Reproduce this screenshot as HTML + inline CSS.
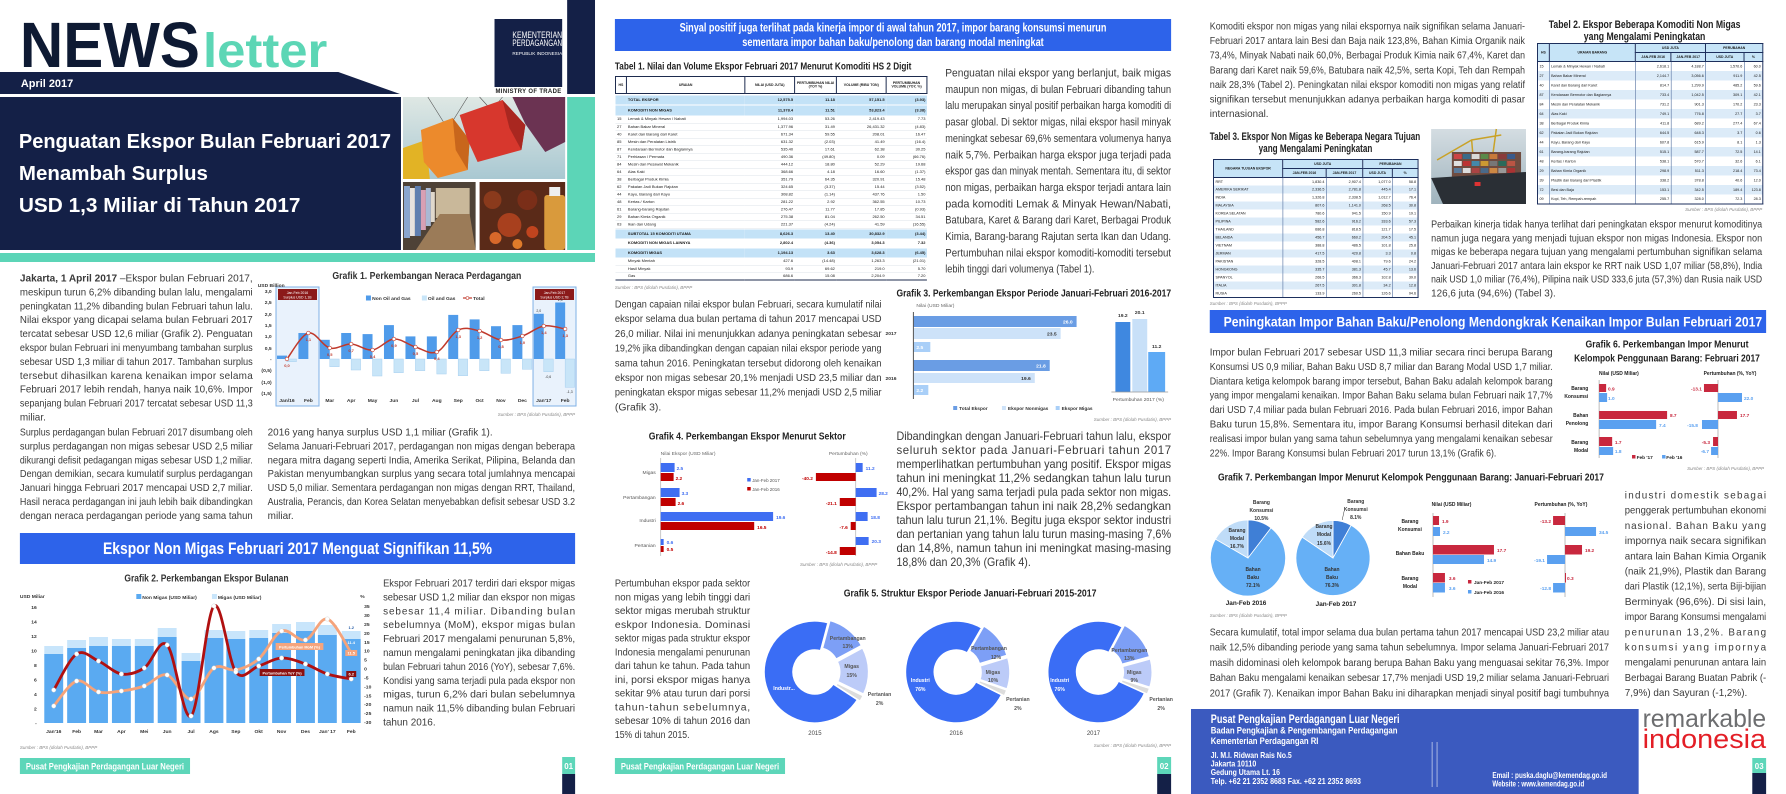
<!DOCTYPE html>
<html><head><meta charset="utf-8">
<style>
html,body{margin:0;padding:0;background:#fff;}
#wrap{position:relative;width:1786px;height:794px;overflow:hidden;background:#fff;font-family:"Liberation Sans",sans-serif;}
#main{position:absolute;left:0;top:0;}
svg text{font-family:"Liberation Sans",sans-serif;}
.src{font-size:4.5px;font-style:italic;fill:#8a8a8a;}
.tb{position:absolute;transform-origin:0 0;}
.tb table{border-collapse:collapse;table-layout:fixed;width:100%;font-family:"Liberation Sans",sans-serif;color:#1a1a1a;}
.tb td{padding:0 3px;white-space:nowrap;overflow:hidden;line-height:1;font-size:8px;}
.r{text-align:right;} .c{text-align:center;}
.t1 .th td{border:2px solid #1d2b4e;font-weight:bold;text-align:center;font-size:7px;white-space:normal;background:#fff;}
.t1 .hb td{background:#c3e2f7;font-weight:bold;}
.t1 .dr td{border-bottom:1px solid #dde3ea;}
.t1 .last td{border-bottom:2px solid #1d2b4e;}
.tx{border:2px solid #1d2f5c;}
.tx .th td{background:#c6e4f7;border:2px solid #1d2f5c;font-weight:bold;text-align:center;font-size:7px;}
.tx td{border-left:1.5px solid #2b4f8a;border-right:1.5px solid #2b4f8a;font-size:7.5px;}
.tx tr.s td{background:#dcebf8;}
</style></head>
<body><div id="wrap">
<svg id="main" width="1786" height="794" viewBox="0 0 1786 794" xmlns="http://www.w3.org/2000/svg">
<defs>
<linearGradient id="sky" x1="0" y1="0" x2="0" y2="1"><stop offset="0" stop-color="#dfe8e4"/><stop offset="1" stop-color="#a9c8d2"/></linearGradient>
<linearGradient id="sky2" x1="0" y1="0" x2="0" y2="1"><stop offset="0" stop-color="#d4dde2"/><stop offset="1" stop-color="#9fb3bd"/></linearGradient>
</defs>

<!-- ================= PAGE 1 ================= -->
<g transform="matrix(0.995,0,0,1,0,0)">
<text x="20" y="67" font-size="64" font-weight="bold" fill="#0e1a33" textLength="181" lengthAdjust="spacingAndGlyphs">NEWS</text>
<text x="204" y="67" font-size="48" font-weight="bold" fill="#5cd6b5" textLength="125" lengthAdjust="spacingAndGlyphs">letter</text>
<polygon points="0,72 340,72 402,94 0,94" fill="#142047"/>
<text x="21" y="87" font-size="11" font-weight="bold" fill="#fff">April 2017</text>
<rect x="497" y="19" width="68" height="68" fill="#142047"/>
<text x="515" y="38" font-size="9" fill="#fff" textLength="50" lengthAdjust="spacingAndGlyphs">KEMENTERIAN</text>
<text x="515" y="46" font-size="9" fill="#fff" textLength="50" lengthAdjust="spacingAndGlyphs">PERDAGANGAN</text>
<text x="515" y="55" font-size="5" fill="#fff" textLength="50" lengthAdjust="spacingAndGlyphs">REPUBLIK INDONESIA</text>
<text x="498" y="93" font-size="6" font-weight="bold" fill="#222" textLength="66" lengthAdjust="spacing">MINISTRY OF TRADE</text>
<rect x="570" y="0" width="28" height="94" fill="#142047"/>
<rect x="570" y="97" width="28" height="153" fill="#5cd5b7"/>
<rect x="0" y="97" width="403" height="153" fill="#142047"/>
<g font-size="20" font-weight="bold" fill="#fff">
<text x="19" y="148" textLength="374" lengthAdjust="spacingAndGlyphs">Penguatan Ekspor Bulan Februari 2017</text>
<text x="19" y="180" textLength="190" lengthAdjust="spacingAndGlyphs">Menambah Surplus</text>
<text x="19" y="212" textLength="283" lengthAdjust="spacingAndGlyphs">USD 1,3 Miliar di Tahun 2017</text>
</g>
<rect x="405" y="97" width="163" height="82" fill="url(#sky)"/>
<path d="M430,97 L447,124 M470,97 L455,121 M482,97 L492,108 M505,97 L497,107 M540,97 L545,100" stroke="#555" stroke-width=".6"/>
<polygon points="405,148 428,140 432,179 405,179" fill="#e2b325"/>
<polygon points="423,130 455,118 472,140 470,170 440,178 426,162" fill="#ec8a2c"/>
<polygon points="455,118 472,140 470,170 458,150" fill="#c8661c"/>
<polygon points="462,115 505,100 528,125 524,150 480,162 470,140" fill="#d7372d"/>
<polygon points="505,100 528,125 524,150 512,128" fill="#a92720"/>
<polygon points="515,97 568,97 568,142 548,152 528,124" fill="#6b3352"/>
<rect x="405" y="182" width="73" height="68" fill="#4e4237"/>
<rect x="438" y="188" width="34" height="30" fill="#c9b89a"/>
<polygon points="418,250 478,250 472,214 442,214" fill="#9b7b58"/>
<rect x="406" y="186" width="6" height="52" fill="#8aa6cf"/><rect x="412" y="188" width="5" height="48" fill="#e6e2de"/>
<rect x="417" y="186" width="6" height="50" fill="#5f7fb0"/><rect x="423" y="190" width="5" height="40" fill="#d8a0b4"/>
<rect x="428" y="188" width="5" height="38" fill="#a9b9d4"/><rect x="433" y="192" width="4" height="30" fill="#e0d8cc"/>
<rect x="482" y="182" width="86" height="68" fill="#5a2a18"/>
<circle cx="495" cy="200" r="9" fill="#8a3a1c"/><circle cx="512" cy="225" r="12" fill="#a8401e"/><circle cx="530" cy="200" r="10" fill="#7a2e18"/>
<circle cx="498" cy="238" r="6" fill="#d8682a"/><circle cx="520" cy="244" r="5" fill="#e07b2a"/><circle cx="535" cy="232" r="6" fill="#c0441e"/>
<rect x="547" y="195" width="21" height="55" rx="3" fill="#d99a3c"/><rect x="552" y="187" width="11" height="9" fill="#eeeeee"/>
<rect x="0" y="253" width="598" height="9" fill="#5cd5b7"/>

<g font-size="10" fill="#3a3a3a">
<text x="20" y="281.5" textLength="234" lengthAdjust="spacingAndGlyphs"><tspan font-weight="bold">Jakarta, 1 April 2017</tspan> –Ekspor bulan Februari 2017,</text>
<text x="20" y="295.4" textLength="234" lengthAdjust="spacingAndGlyphs">meskipun turun 6,2% dibanding bulan lalu, mengalami</text>
<text x="20" y="309.3" textLength="234" lengthAdjust="spacingAndGlyphs">peningkatan 11,2% dibanding bulan Februari tahun lalu.</text>
<text x="20" y="323.2" textLength="234" lengthAdjust="spacingAndGlyphs">Nilai ekspor yang dicapai selama bulan Februari 2017</text>
<text x="20" y="337.1" textLength="234" lengthAdjust="spacingAndGlyphs">tercatat sebesar USD 12,6 miliar (Grafik 2). Penguatan</text>
<text x="20" y="351" textLength="234" lengthAdjust="spacingAndGlyphs">ekspor bulan Februari ini menyumbang tambahan surplus</text>
<text x="20" y="364.9" textLength="234" lengthAdjust="spacingAndGlyphs">sebesar USD 1,3 miliar di tahun 2017. Tambahan surplus</text>
<text x="20" y="378.8" textLength="234" lengthAdjust="spacing">tersebut dihasilkan karena kenaikan impor selama</text>
<text x="20" y="392.7" textLength="234" lengthAdjust="spacingAndGlyphs">Februari 2017 lebih rendah, hanya naik 10,6%. Impor</text>
<text x="20" y="406.6" textLength="234" lengthAdjust="spacingAndGlyphs">sepanjang bulan Februari 2017 tercatat sebesar USD 11,3</text>
<text x="20" y="420.5">miliar.</text>
<text x="20" y="435.5" textLength="234" lengthAdjust="spacingAndGlyphs">Surplus perdagangan bulan Februari 2017 disumbang oleh</text>
<text x="20" y="449.4" textLength="234" lengthAdjust="spacingAndGlyphs">surplus perdagangan non migas sebesar USD 2,5 miliar</text>
<text x="20" y="463.3" textLength="234" lengthAdjust="spacingAndGlyphs">dikurangi defisit pedagangan migas sebesar USD 1,2 miliar.</text>
<text x="20" y="477.2" textLength="234" lengthAdjust="spacingAndGlyphs">Dengan demikian, secara kumulatif surplus perdagangan</text>
<text x="20" y="491.1" textLength="234" lengthAdjust="spacingAndGlyphs">Januari hingga Februari 2017 mencapai USD 2,7 miliar.</text>
<text x="20" y="505" textLength="234" lengthAdjust="spacingAndGlyphs">Hasil neraca perdagangan ini jauh lebih baik dibandingkan</text>
<text x="20" y="518.9" textLength="234" lengthAdjust="spacingAndGlyphs">dengan neraca perdagangan periode yang sama tahun</text>
<text x="269" y="435.5">2016 yang hanya surplus USD 1,1 miliar (Grafik 1).</text>
<text x="269" y="449.4" textLength="309" lengthAdjust="spacingAndGlyphs">Selama Januari-Februari 2017, perdagangan non migas dengan beberapa</text>
<text x="269" y="463.3" textLength="309" lengthAdjust="spacingAndGlyphs">negara mitra dagang seperti India, Amerika Serikat, Pilipina, Belanda dan</text>
<text x="269" y="477.2" textLength="309" lengthAdjust="spacingAndGlyphs">Pakistan menyumbangkan surplus yang secara total jumlahnya mencapai</text>
<text x="269" y="491.1" textLength="309" lengthAdjust="spacingAndGlyphs">USD 5,0 miliar. Sementara perdagangan non migas dengan RRT, Thailand,</text>
<text x="269" y="505" textLength="309" lengthAdjust="spacingAndGlyphs">Australia, Perancis, dan Korea Selatan menyebabkan defisit sebesar USD 3.2</text>
<text x="269" y="518.9">miliar.</text>
<text x="385" y="586.5" textLength="193" lengthAdjust="spacingAndGlyphs">Ekspor Februari 2017 terdiri dari ekspor migas</text>
<text x="385" y="600.4" textLength="193" lengthAdjust="spacingAndGlyphs">sebesar USD 1,2 miliar dan ekspor non migas</text>
<text x="385" y="614.3" textLength="193" lengthAdjust="spacing">sebesar 11,4 miliar. Dibanding bulan</text>
<text x="385" y="628.2" textLength="193" lengthAdjust="spacing">sebelumnya (MoM), ekspor migas bulan</text>
<text x="385" y="642.1" textLength="193" lengthAdjust="spacingAndGlyphs">Februari 2017 mengalami penurunan 5,8%,</text>
<text x="385" y="656" textLength="193" lengthAdjust="spacingAndGlyphs">namun mengalami peningkatan jika dibanding</text>
<text x="385" y="669.9" textLength="193" lengthAdjust="spacingAndGlyphs">bulan Februari tahun 2016 (YoY), sebesar 7,6%.</text>
<text x="385" y="683.8" textLength="193" lengthAdjust="spacingAndGlyphs">Kondisi yang sama terjadi pula pada ekspor non</text>
<text x="385" y="697.7" textLength="193" lengthAdjust="spacingAndGlyphs">migas, turun 6,2% dari bulan sebelumnya</text>
<text x="385" y="711.6" textLength="193" lengthAdjust="spacingAndGlyphs">namun naik 11,5% dibanding bulan Februari</text>
<text x="385" y="725.5">tahun 2016.</text>
</g>

<!-- Grafik 1 -->
<text x="334" y="279" font-size="10" font-weight="bold" fill="#333" textLength="190" lengthAdjust="spacingAndGlyphs">Grafik 1. Perkembangan Neraca Perdagangan</text>
<rect x="277.4" y="287" width="43.2" height="119" fill="#e9f2fc" stroke="#7fb0e6" stroke-width="1"/>
<rect x="535.7" y="287" width="43.2" height="119" fill="#e9f2fc" stroke="#7fb0e6" stroke-width="1"/>
<rect x="279.4" y="289" width="39.2" height="11" fill="#8b1a1a"/>
<rect x="537.7" y="289" width="39.2" height="11" fill="#8b1a1a"/>
<g font-size="3.5" fill="#fff" text-anchor="middle"><text x="299" y="294">Jan-Feb 2016</text><text x="299" y="298.5">Surplus USD 1,1B</text><text x="557.3" y="294">Jan-Feb 2017</text><text x="557.3" y="298.5">Surplus USD 2,7B</text></g>
<g font-size="5" font-weight="bold" fill="#333">
<text x="259" y="287">USD Billion</text>
<g text-anchor="end"><text x="273" y="293">3,0</text><text x="273" y="304">2,5</text><text x="273" y="316">2,0</text><text x="273" y="327">1,5</text><text x="273" y="338">1,0</text><text x="273" y="350">0,5</text><text x="273" y="361">-</text><text x="273" y="372">(0,5)</text><text x="273" y="384">(1,0)</text><text x="273" y="395">(1,5)</text></g>
<g text-anchor="middle"><text x="288.4" y="402">Jan/16</text><text x="309.9" y="402">Feb</text><text x="331.4" y="402">Mar</text><text x="352.9" y="402">Apr</text><text x="374.4" y="402">May</text><text x="395.9" y="402">Jun</text><text x="417.5" y="402">Jul</text><text x="439" y="402">Aug</text><text x="460.5" y="402">Sep</text><text x="482" y="402">Oct</text><text x="503.5" y="402">Nov</text><text x="525" y="402">Dec</text><text x="546.5" y="402">Jan'17</text><text x="568" y="402">Feb</text></g>
<rect x="367.8" y="295.5" width="5" height="5" fill="#4f9bea"/><text x="374" y="300">Non Oil and Gas</text>
<rect x="424" y="295.5" width="5" height="5" fill="#c8e5f8"/><text x="430" y="300">Oil and Gas</text>
<line x1="465.3" y1="298" x2="474.4" y2="298" stroke="#c0392b" stroke-width="1.2"/><circle cx="469.8" cy="298" r="1.5" fill="#fff" stroke="#c0392b" stroke-width=".6"/><text x="475.5" y="300">Total</text>
</g>
<g fill="#4f9bea">
<rect x="278.4" y="355.6" width="10" height="3.4"/><rect x="299.9" y="333" width="10" height="26"/><rect x="321.4" y="339.8" width="10" height="19.2"/><rect x="342.9" y="333" width="10" height="26"/><rect x="364.4" y="334.1" width="10" height="24.9"/><rect x="385.9" y="325.1" width="10" height="33.9"/><rect x="407.5" y="336.4" width="10" height="22.6"/><rect x="429" y="336.4" width="10" height="22.6"/><rect x="450.5" y="314.9" width="10" height="44.1"/><rect x="472" y="319.4" width="10" height="39.6"/><rect x="493.5" y="326.2" width="10" height="32.8"/><rect x="515" y="325.1" width="10" height="33.9"/><rect x="536.5" y="313.8" width="10" height="45.2"/><rect x="558" y="302.5" width="10" height="56.5"/>
</g>
<g fill="#c8e5f8" stroke="#a8d0f0" stroke-width=".5">
<rect x="288.4" y="359" width="9.5" height="2.7"/><rect x="331.4" y="359" width="9.5" height="7.7"/><rect x="352.9" y="359" width="9.5" height="11"/><rect x="374.4" y="359" width="9.5" height="17"/><rect x="395.9" y="359" width="9.5" height="13.7"/><rect x="417.5" y="359" width="9.5" height="11.7"/><rect x="439" y="359" width="9.5" height="15"/><rect x="460.5" y="359" width="9.5" height="16.7"/><rect x="482" y="359" width="9.5" height="11.7"/><rect x="503.5" y="359" width="9.5" height="14.3"/><rect x="525" y="359" width="9.5" height="10.3"/><rect x="546.5" y="359" width="9.5" height="12.7"/><rect x="568" y="359" width="9.5" height="28.3"/>
</g>
<g font-size="3.5" fill="#333" text-anchor="middle"><text x="541.5" y="312">2,0</text><text x="563" y="301">2,5</text><text x="551" y="378">-0,6</text><text x="572.5" y="393">-1,3</text></g>
<path id="g1line" d="M288.4,359 L309.9,333 L331.4,348 L352.9,344 L374.4,350 L395.9,339 L417.5,347 L439,352 L460.5,330 L482,331 L503.5,340 L525,336 L546.5,326 L568,329" fill="none" stroke="#c0392b" stroke-width="1.5"/>
<g fill="#fff" stroke="#c0392b" stroke-width=".6">
<circle cx="288.4" cy="359" r="1.8"/><circle cx="309.9" cy="333" r="1.8"/><circle cx="331.4" cy="348" r="1.8"/><circle cx="352.9" cy="344" r="1.8"/><circle cx="374.4" cy="350" r="1.8"/><circle cx="395.9" cy="339" r="1.8"/><circle cx="417.5" cy="347" r="1.8"/><circle cx="439" cy="352" r="1.8"/><circle cx="460.5" cy="330" r="1.8"/><circle cx="482" cy="331" r="1.8"/><circle cx="503.5" cy="340" r="1.8"/><circle cx="525" cy="336" r="1.8"/><circle cx="546.5" cy="326" r="1.8"/><circle cx="568" cy="329" r="1.8"/>
</g>
<g font-size="4" fill="#c0392b" font-weight="bold" text-anchor="middle">
<text x="288.4" y="367">0,0</text><text x="309.9" y="341">1,1</text><text x="331.4" y="356">0,5</text><text x="352.9" y="352">0,7</text><text x="374.4" y="358">0,4</text><text x="395.9" y="347">0,9</text><text x="417.5" y="355">0,5</text><text x="439" y="360">0,4</text><text x="460.5" y="338">1,3</text><text x="482" y="339">1,2</text><text x="503.5" y="348">0,8</text><text x="525" y="344">1,0</text><text x="546.5" y="334">1,4</text><text x="568" y="337">1,3</text>
</g>
<text x="578" y="416" class="src" text-anchor="end">Sumber : BPS (diolah Pusdatin), BPPP</text>

<rect x="20" y="533" width="558" height="31" fill="#2d63ea"/>
<text x="299" y="554" font-size="17" font-weight="bold" fill="#fff" text-anchor="middle" textLength="391" lengthAdjust="spacingAndGlyphs">Ekspor Non Migas Februari 2017 Menguat Signifikan 11,5%</text>

<!-- Grafik 2 -->
<text x="125" y="581.5" font-size="10.5" font-weight="bold" fill="#333" textLength="165" lengthAdjust="spacingAndGlyphs">Grafik 2. Perkembangan Ekspor Bulanan</text>
<g font-size="5" font-weight="bold" fill="#333">
<text x="20" y="598">USD Miliar</text><text x="362" y="598">%</text>
<rect x="137" y="594" width="5" height="5" fill="#5aaaf1"/><text x="143" y="599">Non Migas (USD Miliar)</text>
<rect x="213" y="594" width="5" height="5" fill="#c8e5fb"/><text x="219" y="599">Migas (USD Miliar)</text>
<g text-anchor="end"><text x="37" y="609">16</text><text x="37" y="623.5">14</text><text x="37" y="638">12</text><text x="37" y="652.5">10</text><text x="37" y="667">8</text><text x="37" y="681.5">6</text><text x="37" y="696">4</text><text x="37" y="710.5">2</text><text x="37" y="725">-</text></g>
<text x="366" y="608">35</text><text x="366" y="617">30</text><text x="366" y="626">25</text><text x="366" y="635">20</text><text x="366" y="644">15</text><text x="366" y="652.5">10</text><text x="366" y="661.5">5</text><text x="366" y="670.5">0</text><text x="366" y="679.5">-5</text><text x="366" y="688.5">-10</text><text x="366" y="697.5">-15</text><text x="366" y="706">-20</text><text x="366" y="715">-25</text><text x="366" y="724">-30</text>
<g text-anchor="middle"><text x="54" y="733">Jan'16</text><text x="77" y="733">Feb</text><text x="99" y="733">Mar</text><text x="122" y="733">Apr</text><text x="145" y="733">Mei</text><text x="168" y="733">Jun</text><text x="192" y="733">Jul</text><text x="215" y="733">Ags</text><text x="237" y="733">Sep</text><text x="260" y="733">Okt</text><text x="283" y="733">Nov</text><text x="307" y="733">Des</text><text x="329" y="733">Jan' 17</text><text x="353" y="733">Feb</text></g>
</g>
<g fill="#c8e5fb">
<rect x="44.5" y="646" width="19" height="8"/><rect x="67.5" y="640" width="19" height="8"/><rect x="89.5" y="637" width="19" height="9"/><rect x="112.5" y="639" width="19" height="7"/><rect x="135.5" y="639" width="19" height="7"/><rect x="158.5" y="628" width="19" height="9"/><rect x="182.5" y="653" width="19" height="8"/><rect x="205.5" y="630" width="19" height="8"/><rect x="227.5" y="631" width="19" height="8"/><rect x="250.5" y="630" width="19" height="8"/><rect x="273.5" y="624" width="19" height="9"/><rect x="297.5" y="622" width="19" height="9"/><rect x="319.5" y="625" width="19" height="10"/><rect x="343.5" y="631" width="19" height="8"/>
</g>
<g fill="#5aaaf1">
<rect x="44.5" y="654" width="19" height="69"/><rect x="67.5" y="648" width="19" height="75"/><rect x="89.5" y="646" width="19" height="77"/><rect x="112.5" y="646" width="19" height="77"/><rect x="135.5" y="646" width="19" height="77"/><rect x="158.5" y="637" width="19" height="86"/><rect x="182.5" y="661" width="19" height="62"/><rect x="205.5" y="638" width="19" height="85"/><rect x="227.5" y="639" width="19" height="84"/><rect x="250.5" y="638" width="19" height="85"/><rect x="273.5" y="633" width="19" height="90"/><rect x="297.5" y="631" width="19" height="92"/><rect x="319.5" y="635" width="19" height="88"/><rect x="343.5" y="639" width="19" height="84"/>
</g>
<path id="g2o" d="M54,706 L77,681 L99,692 L122,691 L145,686 L168,675 L192,699 L215,668 L237,670 L260,659 L283,631 L307,640 L329,619 L353,653" fill="none" stroke="#f5a37a" stroke-width="2.8"/>
<path id="g2r" d="M54,690 L77,654 L99,661 L122,674 L145,668 L168,645 L192,716 L215,606 L237,672 L260,666 L283,658 L307,664 L329,674 L353,679" fill="none" stroke="#b01010" stroke-width="2.8"/>
<g fill="#fff" stroke="#ccc" stroke-width=".4">
<circle cx="54" cy="706" r="2.2"/><circle cx="77" cy="681" r="2.2"/><circle cx="99" cy="692" r="2.2"/><circle cx="122" cy="691" r="2.2"/><circle cx="145" cy="686" r="2.2"/><circle cx="168" cy="675" r="2.2"/><circle cx="192" cy="699" r="2.2"/><circle cx="215" cy="668" r="2.2"/><circle cx="237" cy="670" r="2.2"/><circle cx="260" cy="659" r="2.2"/><circle cx="283" cy="631" r="2.2"/><circle cx="307" cy="640" r="2.2"/><circle cx="329" cy="619" r="2.2"/><circle cx="353" cy="653" r="2.2"/>
<circle cx="54" cy="690" r="2.2"/><circle cx="77" cy="654" r="2.2"/><circle cx="99" cy="661" r="2.2"/><circle cx="122" cy="674" r="2.2"/><circle cx="145" cy="668" r="2.2"/><circle cx="168" cy="645" r="2.2"/><circle cx="192" cy="716" r="2.2"/><circle cx="215" cy="606" r="2.2"/><circle cx="237" cy="672" r="2.2"/><circle cx="260" cy="666" r="2.2"/><circle cx="283" cy="658" r="2.2"/><circle cx="307" cy="664" r="2.2"/><circle cx="329" cy="674" r="2.2"/><circle cx="353" cy="679" r="2.2"/>
</g>
<rect x="277" y="643" width="48" height="7" fill="#f5a57e"/>
<text x="301" y="648.3" font-size="3.8" fill="#fff" text-anchor="middle" font-weight="bold">Pertumbuhan MoM (%)</text>
<rect x="261" y="669" width="45" height="7" fill="#8b1010"/>
<text x="283.5" y="674.3" font-size="3.8" fill="#fff" text-anchor="middle" font-weight="bold">Pertumbuhan YoY (%)</text>
<g font-size="4" font-weight="bold" text-anchor="middle">
<text x="353" y="629" fill="#2a5fa8">1.2</text><text x="353" y="644" fill="#fff">11.4</text>
<rect x="347" y="650" width="12" height="6" fill="#f5a57e"/><text x="353" y="654.5" fill="#fff">11.5</text>
<rect x="348" y="671" width="10" height="6" fill="#8b1010"/><text x="353" y="675.5" fill="#fff">6.2</text>
</g>
<text x="20" y="749" class="src">Sumber : BPS (diolah Pusdatin), BPPP</text>

<rect x="20" y="758" width="171" height="16" fill="#5dd6b9"/>
<text x="26" y="769.5" font-size="9.5" font-weight="bold" fill="#fff" textLength="159" lengthAdjust="spacingAndGlyphs">Pusat Pengkajian Perdagangan Luar Negeri</text>
<rect x="565" y="757" width="13" height="17" fill="#5dd6b9"/><text x="571.5" y="769" font-size="8" font-weight="bold" fill="#fff" text-anchor="middle">01</text>
<rect x="565" y="774" width="13" height="20" fill="#142047"/>
</g>

<!-- ================= PAGE 2 ================= -->
<g transform="matrix(0.995,0,0,1,2.975,0)">
<rect x="615" y="19" width="559" height="32" fill="#2d63ea"/>
<g font-size="11.5" font-weight="bold" fill="#fff" text-anchor="middle">
<text x="894.5" y="31.5" textLength="429" lengthAdjust="spacingAndGlyphs">Sinyal positif juga terlihat pada kinerja impor di awal tahun 2017, impor barang konsumsi menurun</text>
<text x="894.5" y="46" textLength="303" lengthAdjust="spacingAndGlyphs">sementara impor bahan baku/penolong dan barang modal meningkat</text>
</g>
<text x="615" y="69.5" font-size="10" font-weight="bold" fill="#222" textLength="298" lengthAdjust="spacingAndGlyphs">Tabel 1. Nilai dan Volume Ekspor Februari 2017 Menurut Komoditi HS 2 Digit</text>
<text x="615" y="289" class="src">Sumber : BPS (diolah Pusdatin), BPPP</text>

<g font-size="11" fill="#3a3a3a">
<text x="947" y="76.5" textLength="227" lengthAdjust="spacingAndGlyphs">Penguatan nilai ekspor yang berlanjut, baik migas</text>
<text x="947" y="92.9" textLength="227" lengthAdjust="spacingAndGlyphs">maupun non migas, di bulan Februari dibanding tahun</text>
<text x="947" y="109.2" textLength="227" lengthAdjust="spacingAndGlyphs">lalu merupakan sinyal positif perbaikan harga komoditi di</text>
<text x="947" y="125.6" textLength="227" lengthAdjust="spacingAndGlyphs">pasar global. Di sektor migas, nilai ekspor hasil minyak</text>
<text x="947" y="141.9" textLength="227" lengthAdjust="spacingAndGlyphs">meningkat sebesar 69,6% sementara volumenya hanya</text>
<text x="947" y="158.3" textLength="227" lengthAdjust="spacingAndGlyphs">naik 5,7%. Perbaikan harga ekspor juga terjadi pada</text>
<text x="947" y="174.6" textLength="227" lengthAdjust="spacingAndGlyphs">ekspor gas dan minyak mentah. Sementara itu, di sektor</text>
<text x="947" y="191" textLength="227" lengthAdjust="spacingAndGlyphs">non migas, perbaikan harga ekspor terjadi antara lain</text>
<text x="947" y="207.3" textLength="227" lengthAdjust="spacing">pada komoditi Lemak &amp; Minyak Hewan/Nabati,</text>
<text x="947" y="223.7" textLength="227" lengthAdjust="spacingAndGlyphs">Batubara, Karet &amp; Barang dari Karet, Berbagai Produk</text>
<text x="947" y="240" textLength="227" lengthAdjust="spacingAndGlyphs">Kimia, Barang-barang Rajutan serta Ikan dan Udang.</text>
<text x="947" y="256.4" textLength="227" lengthAdjust="spacingAndGlyphs">Pertumbuhan nilai ekspor komoditi-komoditi tersebut</text>
<text x="947" y="272.7" textLength="150" lengthAdjust="spacingAndGlyphs">lebih tinggi dari volumenya (Tabel 1).</text>
</g>
<g font-size="10.5" fill="#3a3a3a">
<text x="615" y="307.5" textLength="268" lengthAdjust="spacingAndGlyphs">Dengan capaian nilai ekspor bulan Februari, secara kumulatif nilai</text>
<text x="615" y="322.2" textLength="268" lengthAdjust="spacingAndGlyphs">ekspor selama dua bulan pertama di tahun 2017 mencapai USD</text>
<text x="615" y="336.9" textLength="268" lengthAdjust="spacingAndGlyphs">26,0 miliar. Nilai ini menunjukkan adanya peningkatan sebesar</text>
<text x="615" y="351.6" textLength="268" lengthAdjust="spacingAndGlyphs">19,2% jika dibandingkan dengan capaian nilai ekspor periode yang</text>
<text x="615" y="366.3" textLength="268" lengthAdjust="spacingAndGlyphs">sama tahun 2016. Peningkatan tersebut didorong oleh kenaikan</text>
<text x="615" y="381" textLength="268" lengthAdjust="spacingAndGlyphs">ekspor non migas sebesar 20,1% menjadi USD 23,5 miliar dan</text>
<text x="615" y="395.7" textLength="268" lengthAdjust="spacingAndGlyphs">peningkatan ekspor migas sebesar 11,2% menjadi USD 2,5 miliar</text>
<text x="615" y="410.4">(Grafik 3).</text>
</g>
<g font-size="11.5" fill="#3a3a3a">
<text x="898" y="440" textLength="276" lengthAdjust="spacingAndGlyphs">Dibandingkan dengan Januari-Februari tahun lalu, ekspor</text>
<text x="898" y="454" textLength="276" lengthAdjust="spacing">seluruh sektor pada Januari-Februari tahun 2017</text>
<text x="898" y="468" textLength="276" lengthAdjust="spacingAndGlyphs">memperlihatkan pertumbuhan yang positif. Ekspor migas</text>
<text x="898" y="482" textLength="276" lengthAdjust="spacingAndGlyphs">tahun ini meningkat 11,2% sedangkan tahun lalu turun</text>
<text x="898" y="496" textLength="276" lengthAdjust="spacingAndGlyphs">40,2%. Hal yang sama terjadi pula pada sektor non migas.</text>
<text x="898" y="510" textLength="276" lengthAdjust="spacingAndGlyphs">Ekspor pertambangan tahun ini naik 28,2% sedangkan</text>
<text x="898" y="524" textLength="276" lengthAdjust="spacingAndGlyphs">tahun lalu turun 21,1%. Begitu juga ekspor sektor industri</text>
<text x="898" y="538" textLength="276" lengthAdjust="spacingAndGlyphs">dan pertanian yang tahun lalu turun masing-masing 7,6%</text>
<text x="898" y="552" textLength="276" lengthAdjust="spacingAndGlyphs">dan 14,8%, namun tahun ini meningkat masing-masing</text>
<text x="898" y="566" textLength="135" lengthAdjust="spacingAndGlyphs">18,8% dan 20,3% (Grafik 4).</text>
</g>
<g font-size="10.5" fill="#3a3a3a">
<text x="615" y="586.5" textLength="136" lengthAdjust="spacingAndGlyphs">Pertumbuhan ekspor pada sektor</text>
<text x="615" y="600.3" textLength="136" lengthAdjust="spacingAndGlyphs">non migas yang lebih tinggi dari</text>
<text x="615" y="614" textLength="136" lengthAdjust="spacingAndGlyphs">sektor migas merubah struktur</text>
<text x="615" y="627.8" textLength="136" lengthAdjust="spacing">eskpor Indonesia. Dominasi</text>
<text x="615" y="641.5" textLength="136" lengthAdjust="spacingAndGlyphs">sektor migas pada struktur ekspor</text>
<text x="615" y="655.3" textLength="136" lengthAdjust="spacingAndGlyphs">Indonesia mengalami penurunan</text>
<text x="615" y="669" textLength="136" lengthAdjust="spacingAndGlyphs">dari tahun ke tahun. Pada tahun</text>
<text x="615" y="682.8" textLength="136" lengthAdjust="spacingAndGlyphs">ini, porsi ekspor migas hanya</text>
<text x="615" y="696.5" textLength="136" lengthAdjust="spacingAndGlyphs">sekitar 9% atau turun dari porsi</text>
<text x="615" y="710.3" textLength="136" lengthAdjust="spacing">tahun-tahun sebelumnya,</text>
<text x="615" y="724" textLength="136" lengthAdjust="spacingAndGlyphs">sebesar 10% di tahun 2016 dan</text>
<text x="615" y="737.8" textLength="75" lengthAdjust="spacingAndGlyphs">15% di tahun 2015.</text>
</g>

<!-- Grafik 3 -->
<text x="898" y="296.5" font-size="10" font-weight="bold" fill="#222" textLength="276" lengthAdjust="spacingAndGlyphs">Grafik 3. Perkembangan Ekspor Periode Januari-Februari 2016-2017</text>
<text x="918" y="307" font-size="5" fill="#666">Nilai (USD Miliar)</text>
<rect x="915" y="316" width="164" height="11" fill="#6a9de4"/>
<rect x="915" y="328" width="148" height="11" fill="#cde2f9"/>
<rect x="915" y="342" width="17" height="10" fill="#a9cff8"/>
<rect x="915" y="360" width="137" height="11" fill="#6a9de4"/>
<rect x="915" y="373" width="122" height="10" fill="#cde2f9"/>
<rect x="915" y="385" width="15" height="10" fill="#a9cff8"/>
<line x1="915" y1="312" x2="915" y2="399" stroke="#555" stroke-width="1"/>
<g font-size="5" font-weight="bold">
<text x="1075" y="323.5" fill="#fff" text-anchor="end">26.0</text>
<text x="1059" y="335.5" fill="#333" text-anchor="end">23.5</text>
<text x="918" y="349" fill="#fff">2.5</text>
<text x="1048" y="367.5" fill="#fff" text-anchor="end">21.8</text>
<text x="1033" y="380" fill="#333" text-anchor="end">19.6</text>
<text x="918" y="392" fill="#fff">2.2</text>
<text x="887" y="335" fill="#333">2017</text>
<text x="887" y="380" fill="#333">2016</text>
</g>
<rect x="1118" y="322" width="15" height="70" fill="#3f88e0"/>
<rect x="1135" y="319" width="15" height="73" fill="#c8e0f8"/>
<rect x="1151" y="352" width="17" height="40" fill="#5eaaf5"/>
<line x1="1114" y1="392" x2="1171" y2="392" stroke="#999" stroke-width=".8"/>
<g font-size="5" font-weight="bold" fill="#333" text-anchor="middle">
<text x="1125.5" y="317">19.2</text><text x="1142.5" y="314">20.1</text><text x="1159.5" y="348">11.2</text>
</g>
<text x="1141" y="401" font-size="5" fill="#555" text-anchor="middle">Pertumbuhan 2017 (%)</text>
<g font-size="4.8" font-weight="bold" fill="#333">
<rect x="955" y="406" width="4" height="4" fill="#6a9de4"/><text x="961" y="410">Total Ekspor</text>
<rect x="1004" y="406" width="4" height="4" fill="#cde2f9"/><text x="1010" y="410">Ekspor Nonmigas</text>
<rect x="1058" y="406" width="4" height="4" fill="#a9cff8"/><text x="1064" y="410">Ekspor Migas</text>
</g>
<text x="1174" y="421" class="src" text-anchor="end">Sumber : BPS (diolah Pusdatin), BPPP</text>

<!-- Grafik 4 -->
<text x="649" y="439.5" font-size="10" font-weight="bold" fill="#222" textLength="198" lengthAdjust="spacingAndGlyphs">Grafik 4. Perkembangan Ekspor Menurut Sektor</text>
<text x="661" y="455" font-size="5" fill="#666">Nilai Ekspor (USD Miliar)</text>
<text x="830" y="455" font-size="5" fill="#666">Pertumbuhan (%)</text>
<line x1="661" y1="458" x2="661" y2="556" stroke="#bbb" stroke-width=".8"/>
<line x1="857" y1="458" x2="857" y2="556" stroke="#bbb" stroke-width=".8"/>
<g fill="#3f6ef2"><rect x="661" y="463" width="14" height="9"/><rect x="661" y="488" width="19" height="9"/><rect x="661" y="512" width="113" height="9"/><rect x="661" y="539" width="3" height="6"/>
<rect x="857" y="463" width="7" height="9"/><rect x="857" y="488" width="21" height="9"/><rect x="857" y="512" width="12" height="9"/><rect x="857" y="537" width="13" height="8"/></g>
<g fill="#c00000"><rect x="661" y="473" width="13" height="8"/><rect x="661" y="498" width="15" height="8"/><rect x="661" y="522" width="94" height="8"/><rect x="661" y="546" width="3" height="6"/>
<rect x="817" y="473" width="40" height="8"/><rect x="841" y="498" width="16" height="8"/><rect x="852" y="522" width="5" height="8"/><rect x="841" y="547" width="16" height="8"/></g>
<g font-size="4.8" font-weight="bold">
<g fill="#3f6ef2"><text x="677" y="470">2.5</text><text x="682" y="495">3.3</text><text x="777" y="519">19.6</text><text x="667" y="544">0.6</text>
<text x="867" y="470">11.2</text><text x="880" y="495">28.2</text><text x="872" y="519">18.8</text><text x="873" y="543">20.3</text></g>
<g fill="#c00000"><text x="676" y="480">2.2</text><text x="678" y="505">2.6</text><text x="758" y="529">16.5</text><text x="667" y="551">0.5</text>
<g text-anchor="end"><text x="814" y="480">-40.2</text><text x="838" y="505">-21.1</text><text x="849" y="529">-7.6</text><text x="838" y="554">-14.8</text></g></g>
</g>
<g font-size="5" fill="#555" text-anchor="end"><text x="656" y="474">Migas</text><text x="656" y="499">Pertambangan</text><text x="656" y="522">Industri</text><text x="656" y="547">Pertanian</text></g>
<g font-size="4.5" fill="#555"><rect x="748" y="478" width="3.5" height="3.5" fill="#3f6ef2"/><text x="753" y="482">Jan-Feb 2017</text><rect x="748" y="487" width="3.5" height="3.5" fill="#c00000"/><text x="753" y="491">Jan-Feb 2016</text></g>
<text x="801" y="566" class="src">Sumber : BPS (diolah Pusdatin), BPPP</text>

<!-- Grafik 5 -->
<text x="845" y="596.5" font-size="10" font-weight="bold" fill="#222" textLength="254" lengthAdjust="spacingAndGlyphs">Grafik 5. Struktur Ekspor Periode Januari-Februari 2015-2017</text>
<g stroke="#fff" stroke-width="1.5">
<path d="M858.77,699.77 A51,51 0 1 1 829.2,622.74 L821.69,650.75 A22,22 0 1 0 834.45,683.98 Z" fill="#3a6df5"/>
<path transform="translate(1.9,-2.4)" d="M829.2,622.74 A51,51 0 0 1 860.95,647.9 L835.39,661.6 A22,22 0 0 0 821.69,650.75 Z" fill="#7d9ff6"/>
<path transform="translate(3,0)" d="M860.95,647.9 A51,51 0 0 1 861.92,694.2 L835.81,681.57 A22,22 0 0 0 835.39,661.6 Z" fill="#bccbf8"/>
<path transform="translate(2.6,1.5)" d="M861.92,694.2 A51,51 0 0 1 858.77,699.77 L834.45,683.98 A22,22 0 0 0 835.81,681.57 Z" fill="#dcdcdc"/>
<path d="M1003.68,694.67 A51,51 0 1 1 983.5,627.83 L969,652.95 A22,22 0 1 0 977.71,681.78 Z" fill="#3a6df5"/>
<path transform="translate(2.3,-1.9)" d="M983.5,627.83 A51,51 0 0 1 1006.82,657.26 L979.06,665.64 A22,22 0 0 0 969,652.95 Z" fill="#7d9ff6"/>
<path transform="translate(3,0.3)" d="M1006.82,657.26 A51,51 0 0 1 1006.16,688.77 L978.78,679.24 A22,22 0 0 0 979.06,665.64 Z" fill="#bccbf8"/>
<path transform="translate(2.7,1.3)" d="M1006.16,688.77 A51,51 0 0 1 1003.68,694.67 L977.71,681.78 A22,22 0 0 0 978.78,679.24 Z" fill="#dcdcdc"/>
<path d="M1147.45,693.07 A51,51 0 1 1 1124.94,626.97 L1111.33,652.58 A22,22 0 1 0 1121.04,681.09 Z" fill="#3a6df5"/>
<path transform="translate(2.2,-1.9)" d="M1124.94,626.97 A51,51 0 0 1 1150.22,658.63 L1122.23,666.23 A22,22 0 0 0 1111.33,652.58 Z" fill="#7d9ff6"/>
<path transform="translate(3,0.2)" d="M1150.22,658.63 A51,51 0 0 1 1149.72,687.08 L1122.02,678.51 A22,22 0 0 0 1122.23,666.23 Z" fill="#bccbf8"/>
<path transform="translate(2.7,1.2)" d="M1149.72,687.08 A51,51 0 0 1 1147.45,693.07 L1121.04,681.09 A22,22 0 0 0 1122.02,678.51 Z" fill="#dcdcdc"/>
</g>
<g font-size="5.2" font-weight="bold" text-anchor="middle">
<g fill="#555"><text x="849" y="640">Pertambangan</text><text x="849" y="648">13%</text><text x="853" y="668">Migas</text><text x="853" y="677">15%</text><text x="881" y="696">Pertanian</text><text x="881" y="705">2%</text>
<text x="991" y="650">Pertambangan</text><text x="998" y="659">12%</text><text x="995" y="674">Migas</text><text x="995" y="682">10%</text><text x="1020" y="701">Pertanian</text><text x="1020" y="710">2%</text>
<text x="1132" y="652">Pertambangan</text><text x="1132" y="660">13%</text><text x="1137" y="674">Migas</text><text x="1137" y="682">9%</text><text x="1164" y="701">Pertanian</text><text x="1164" y="710">2%</text></g>
<g fill="#fff"><text x="785" y="690">Industr...</text><text x="922" y="682">Industri</text><text x="922" y="691">76%</text><text x="1062" y="682">Industri</text><text x="1062" y="691">76%</text></g>
</g>
<g font-size="6" fill="#444" text-anchor="middle"><text x="816" y="735">2015</text><text x="958" y="735">2016</text><text x="1096" y="735">2017</text></g>
<text x="1174" y="747" class="src" text-anchor="end">Sumber : BPS (diolah Pusdatin), BPPP</text>

<rect x="615" y="758" width="171" height="16" fill="#5dd6b9"/>
<text x="621" y="769.5" font-size="9.5" font-weight="bold" fill="#fff" textLength="159" lengthAdjust="spacingAndGlyphs">Pusat Pengkajian Perdagangan Luar Negeri</text>
<rect x="1160" y="757" width="14" height="17" fill="#5dd6b9"/><text x="1167" y="769" font-size="8" font-weight="bold" fill="#fff" text-anchor="middle">02</text>
<rect x="1160" y="774" width="14" height="20" fill="#142047"/>
</g>

<!-- ================= PAGE 3 ================= -->
<g transform="matrix(0.9882,0,0,1,14.04,0)">
<g font-size="10" fill="#3a3a3a">
<text x="1210" y="29.5" textLength="319" lengthAdjust="spacingAndGlyphs">Komoditi ekspor non migas yang nilai ekspornya naik signifikan selama Januari-</text>
<text x="1210" y="44.1" textLength="319" lengthAdjust="spacingAndGlyphs">Februari 2017 antara lain Besi dan Baja naik 123,8%, Bahan Kimia Organik naik</text>
<text x="1210" y="58.7" textLength="319" lengthAdjust="spacingAndGlyphs">73,4%, Minyak Nabati naik 60,0%, Berbagai Produk Kimia naik 67,4%, Karet dan</text>
<text x="1210" y="73.3" textLength="319" lengthAdjust="spacingAndGlyphs">Barang dari Karet naik 59,6%, Batubara naik 42,5%, serta Kopi, Teh dan Rempah</text>
<text x="1210" y="87.9" textLength="319" lengthAdjust="spacingAndGlyphs">naik 28,3% (Tabel 2). Peningkatan nilai ekspor komoditi non migas yang relatif</text>
<text x="1210" y="102.5" textLength="319" lengthAdjust="spacingAndGlyphs">signifikan tersebut menunjukkan adanya perbaikan harga komoditi di pasar</text>
<text x="1210" y="117.1">internasional.</text>
<text x="1434" y="227.5" textLength="335" lengthAdjust="spacingAndGlyphs">Perbaikan kinerja tidak hanya terlihat dari peningkatan ekspor menurut komoditinya</text>
<text x="1434" y="241.3" textLength="335" lengthAdjust="spacingAndGlyphs">namun juga negara yang menjadi tujuan ekspor non migas Indonesia. Ekspor non</text>
<text x="1434" y="255.1" textLength="335" lengthAdjust="spacingAndGlyphs">migas ke beberapa negara tujuan yang mengalami pertumbuhan signifikan selama</text>
<text x="1434" y="268.9" textLength="335" lengthAdjust="spacingAndGlyphs">Januari-Februari 2017 antara lain ekspor ke RRT naik USD 1,07 miliar (58,8%), India</text>
<text x="1434" y="282.7" textLength="335" lengthAdjust="spacingAndGlyphs">naik USD 1,0 miliar (76,4%), Pilipina naik USD 333,6 juta (57,3%) dan Rusia naik USD</text>
<text x="1434" y="296.5">126,6 juta (94,6%) (Tabel 3).</text>
<text x="1210" y="355.5" textLength="347" lengthAdjust="spacingAndGlyphs">Impor bulan Februari 2017 sebesar USD 11,3 miliar secara rinci berupa Barang</text>
<text x="1210" y="369.9" textLength="347" lengthAdjust="spacingAndGlyphs">Konsumsi US 0,9 miliar, Bahan Baku USD 8,7 miliar dan Barang Modal USD 1,7 miliar.</text>
<text x="1210" y="384.3" textLength="347" lengthAdjust="spacingAndGlyphs">Diantara ketiga kelompok barang impor tersebut, Bahan Baku adalah kelompok barang</text>
<text x="1210" y="398.7" textLength="347" lengthAdjust="spacingAndGlyphs">yang impor mengalami kenaikan. Impor Bahan Baku selama bulan Februari naik 17,7%</text>
<text x="1210" y="413.1" textLength="347" lengthAdjust="spacingAndGlyphs">dari USD 7,4 miliar pada bulan Februari 2016. Pada bulan Februari 2016, impor Bahan</text>
<text x="1210" y="427.5" textLength="347" lengthAdjust="spacingAndGlyphs">Baku turun 15,8%. Sementara itu, impor Barang Konsumsi berhasil ditekan dari</text>
<text x="1210" y="441.9" textLength="347" lengthAdjust="spacingAndGlyphs">realisasi impor bulan yang sama tahun sebelumnya yang mengalami kenaikan sebesar</text>
<text x="1210" y="456.3" textLength="290" lengthAdjust="spacingAndGlyphs">22%. Impor Barang Konsumsi bulan Februari 2017 turun 13,1% (Grafik 6).</text>
<text x="1210" y="635.5" textLength="404" lengthAdjust="spacingAndGlyphs">Secara kumulatif, total impor selama dua bulan pertama tahun 2017 mencapai USD 23,2 miliar atau</text>
<text x="1210" y="650.75" textLength="404" lengthAdjust="spacingAndGlyphs">naik 12,5% dibanding periode yang sama tahun sebelumnya. Impor selama Januari-Februari 2017</text>
<text x="1210" y="666" textLength="404" lengthAdjust="spacingAndGlyphs">masih didominasi oleh kelompok barang berupa Bahan Baku yang menguasai sekitar 76,3%. Impor</text>
<text x="1210" y="681.25" textLength="404" lengthAdjust="spacingAndGlyphs">Bahan Baku mengalami kenaikan sebesar 17,7% menjadi USD 19,2 miliar selama Januari-Februari</text>
<text x="1210" y="696.5" textLength="404" lengthAdjust="spacingAndGlyphs">2017 (Grafik 7). Kenaikan impor Bahan Baku ini diharapkan menjadi sinyal positif bagi tumbuhnya</text>
<text x="1630" y="498.5" textLength="143" lengthAdjust="spacing">industri domestik sebagai</text>
<text x="1630" y="513.7" textLength="143" lengthAdjust="spacingAndGlyphs">penggerak pertumbuhan ekonomi</text>
<text x="1630" y="528.9" textLength="143" lengthAdjust="spacing">nasional. Bahan Baku yang</text>
<text x="1630" y="544.1" textLength="143" lengthAdjust="spacingAndGlyphs">impornya naik secara signifikan</text>
<text x="1630" y="559.3" textLength="143" lengthAdjust="spacingAndGlyphs">antara lain Bahan Kimia Organik</text>
<text x="1630" y="574.5" textLength="143" lengthAdjust="spacingAndGlyphs">(naik 21,9%), Plastik dan Barang</text>
<text x="1630" y="589.7" textLength="143" lengthAdjust="spacingAndGlyphs">dari Plastik (12,1%), serta Biji-bijian</text>
<text x="1630" y="604.9" textLength="143" lengthAdjust="spacingAndGlyphs">Berminyak (96,6%). Di sisi lain,</text>
<text x="1630" y="620.1" textLength="143" lengthAdjust="spacingAndGlyphs">impor Barang Konsumsi mengalami</text>
<text x="1630" y="635.3" textLength="143" lengthAdjust="spacing">penurunan 13,2%. Barang</text>
<text x="1630" y="650.5" textLength="143" lengthAdjust="spacing">konsumsi yang impornya</text>
<text x="1630" y="665.7" textLength="143" lengthAdjust="spacingAndGlyphs">mengalami penurunan antara lain</text>
<text x="1630" y="680.9" textLength="143" lengthAdjust="spacingAndGlyphs">Berbagai Barang Buatan Pabrik (-</text>
<text x="1630" y="696.1">7,9%) dan Sayuran (-1,2%).</text>
</g>
<g font-size="11" font-weight="bold" fill="#222">
<text x="1650" y="28" text-anchor="middle" textLength="194" lengthAdjust="spacingAndGlyphs">Tabel 2. Ekspor Beberapa Komoditi Non Migas</text>
<text x="1650" y="40" text-anchor="middle" textLength="123" lengthAdjust="spacingAndGlyphs">yang Mengalami Peningkatan</text>
<text x="1210" y="140" textLength="213" lengthAdjust="spacingAndGlyphs">Tabel 3. Ekspor Non Migas ke Beberapa Negara Tujuan</text>
<text x="1317" y="152" text-anchor="middle" textLength="115" lengthAdjust="spacingAndGlyphs">yang Mengalami Peningkatan</text>
</g>
<text x="1769" y="211" class="src" text-anchor="end">Sumber : BPS (diolah Pusdatin), BPPP</text>
<text x="1210" y="305" class="src">Sumber : BPS (diolah Pusdatin), BPPP</text>
<rect x="1434" y="129" width="96" height="75" fill="url(#sky2)"/>
<path d="M1440,160 L1475,140 L1505,135 M1475,140 L1478,175 M1500,129 L1495,165" stroke="#c9a227" stroke-width="1.5" fill="none"/>
<rect x="1455" y="152" width="70" height="28" fill="#6f4c40"/>
<g><rect x="1457" y="154" width="8" height="5" fill="#c44"/><rect x="1466" y="154" width="8" height="5" fill="#3a6b8a"/><rect x="1475" y="154" width="8" height="5" fill="#d9d9d9"/><rect x="1484" y="154" width="8" height="5" fill="#5a8a4a"/><rect x="1493" y="154" width="8" height="5" fill="#c87a3a"/><rect x="1502" y="154" width="8" height="5" fill="#8a3a3a"/><rect x="1511" y="154" width="8" height="5" fill="#3a5a8a"/>
<rect x="1457" y="161" width="8" height="5" fill="#e0e0e0"/><rect x="1466" y="161" width="8" height="5" fill="#b33"/><rect x="1475" y="161" width="8" height="5" fill="#48a"/><rect x="1484" y="161" width="8" height="5" fill="#c93"/><rect x="1493" y="161" width="8" height="5" fill="#777"/><rect x="1502" y="161" width="8" height="5" fill="#2a6a5a"/><rect x="1511" y="161" width="8" height="5" fill="#b54"/>
<rect x="1457" y="168" width="8" height="5" fill="#5a7a9a"/><rect x="1466" y="168" width="8" height="5" fill="#ddd"/><rect x="1475" y="168" width="8" height="5" fill="#a44"/><rect x="1484" y="168" width="8" height="5" fill="#4a6a8a"/><rect x="1493" y="168" width="8" height="5" fill="#c84"/><rect x="1502" y="168" width="8" height="5" fill="#999"/><rect x="1511" y="168" width="8" height="5" fill="#a33"/></g>
<polygon points="1434,178 1530,172 1530,204 1446,204" fill="#2a2f35"/>
<rect x="1478" y="182" width="6" height="4" fill="#d33"/>

<rect x="1210" y="310" width="563" height="23" fill="#2d63ea"/>
<text x="1224" y="326.5" font-size="14" font-weight="bold" fill="#fff" textLength="545" lengthAdjust="spacingAndGlyphs">Peningkatan Impor Bahan Baku/Penolong Mendongkrak Kenaikan Impor Bulan Februari 2017</text>

<!-- Grafik 6 -->
<g font-size="10.5" font-weight="bold" fill="#222" text-anchor="middle">
<text x="1672.7" y="347.5" textLength="165" lengthAdjust="spacingAndGlyphs">Grafik 6. Perkembangan Impor Menurut</text>
<text x="1672.7" y="361.5" textLength="188" lengthAdjust="spacingAndGlyphs">Kelompok Penggunaan Barang: Februari 2017</text>
</g>
<g font-size="5" font-weight="bold" fill="#222">
<text x="1624" y="375" text-anchor="middle">Nilai (USD Miliar)</text><text x="1736.5" y="375" text-anchor="middle">Pertumbuhan (%, YoY)</text>
<g text-anchor="end"><text x="1593" y="390">Barang</text><text x="1593" y="398">Konsumsi</text><text x="1593" y="417">Bahan</text><text x="1593" y="425">Penolong</text><text x="1593" y="444">Barang</text><text x="1593" y="452">Modal</text></g>
</g>
<line x1="1604" y1="380" x2="1604" y2="458" stroke="#aaa" stroke-width=".8"/>
<line x1="1724.3" y1="380" x2="1724.3" y2="458" stroke="#aaa" stroke-width=".8"/>
<g fill="#c8283e"><rect x="1604" y="384" width="7.1" height="8"/><rect x="1604" y="411" width="68.8" height="8"/><rect x="1604" y="437" width="13.2" height="9"/><rect x="1710.1" y="384" width="14.2" height="8"/><rect x="1724.3" y="411" width="19.2" height="8"/><rect x="1719.3" y="437" width="5" height="9"/></g>
<g fill="#5aa0f0"><rect x="1604" y="393" width="8.1" height="9"/><rect x="1604" y="420" width="57.7" height="9"/><rect x="1604" y="447" width="14.2" height="8"/><rect x="1724.3" y="393" width="24.3" height="9"/><rect x="1708.1" y="420" width="16.2" height="9"/><rect x="1717.3" y="447" width="7" height="8"/></g>
<g font-size="4.8" font-weight="bold">
<g fill="#c8283e"><text x="1613" y="390.5">0.9</text><text x="1675.7" y="417">8.7</text><text x="1620" y="444">1.7</text><text x="1708" y="390.5" text-anchor="end">-13.1</text><text x="1746.6" y="417">17.7</text><text x="1716.2" y="444" text-anchor="end">-5.3</text></g>
<g fill="#5aa0f0"><text x="1613" y="400">1.0</text><text x="1664.6" y="427">7.4</text><text x="1620" y="453">1.8</text><text x="1750.6" y="400">22.0</text><text x="1704" y="427" text-anchor="end">-15.8</text><text x="1715.2" y="453" text-anchor="end">-6.7</text></g>
<rect x="1637.3" y="455" width="3.5" height="3.5" fill="#c8283e"/><text x="1642" y="459" fill="#222">Feb '17</text>
<rect x="1667.7" y="455" width="3.5" height="3.5" fill="#5aa0f0"/><text x="1672" y="459" fill="#222">Feb '16</text>
</g>
<text x="1771" y="470" class="src" text-anchor="end">Sumber : BPS (diolah Pusdatin), BPPP</text>

<!-- Grafik 7 -->
<text x="1218.3" y="480.5" font-size="10.5" font-weight="bold" fill="#222" textLength="390.6" lengthAdjust="spacingAndGlyphs">Grafik 7. Perkembangan Impor Menurut Kelompok Penggunaan Barang: Januari-Februari 2017</text>
<g stroke="#fff" stroke-width=".8">
<path d="M1248.7,558 L1248.7,520 A38,38 0 0 1 1271.99,527.97 Z" fill="#3f7fd6"/>
<path d="M1248.7,558 L1271.99,527.97 A38,38 0 1 1 1215.76,539.05 Z" fill="#66b0f6"/>
<path d="M1248.7,558 L1215.76,539.05 A38,38 0 0 1 1248.7,520 Z" fill="#bfdcf8"/>
<path d="M1334.7,558 L1334.7,520.5 A37.5,37.5 0 0 1 1353,525.27 Z" fill="#3f7fd6"/>
<path d="M1334.7,558 L1353,525.27 A37.5,37.5 0 1 1 1303.54,537.14 Z" fill="#66b0f6"/>
<path d="M1334.7,558 L1303.54,537.14 A37.5,37.5 0 0 1 1334.7,520.5 Z" fill="#bfdcf8"/>
</g>
<line x1="1346" y1="511" x2="1344" y2="520" stroke="#333" stroke-width=".5"/>
<g font-size="5" font-weight="bold" fill="#333" text-anchor="middle">
<text x="1262.3" y="504">Barang</text><text x="1262.3" y="512">Konsumsi</text><text x="1262.3" y="520">10.5%</text>
<text x="1237.6" y="532">Barang</text><text x="1237.6" y="540">Modal</text><text x="1237.6" y="548">16.7%</text>
<text x="1253.8" y="571">Bahan</text><text x="1253.8" y="579">Baku</text><text x="1253.8" y="587">72.1%</text>
<text x="1357.8" y="503">Barang</text><text x="1357.8" y="511">Konsumsi</text><text x="1357.8" y="519">8.1%</text>
<text x="1325.6" y="528">Barang</text><text x="1325.6" y="536">Modal</text><text x="1325.6" y="545">15.6%</text>
<text x="1333.7" y="571">Bahan</text><text x="1333.7" y="579">Baku</text><text x="1333.7" y="587">76.3%</text>
</g>
<g font-size="6.5" font-weight="bold" fill="#222" text-anchor="middle"><text x="1246.7" y="605">Jan-Feb 2016</text><text x="1337.7" y="606">Jan-Feb 2017</text></g>
<g font-size="5" font-weight="bold" fill="#222">
<text x="1454.6" y="506" text-anchor="middle">Nilai (USD Miliar)</text><text x="1565.4" y="506" text-anchor="middle">Pertumbuhan (%, YoY)</text>
<g text-anchor="middle"><text x="1412.6" y="523">Barang</text><text x="1412.6" y="531">Konsumsi</text><text x="1412.6" y="555">Bahan Baku</text><text x="1412.6" y="580">Barang</text><text x="1412.6" y="588">Modal</text></g>
</g>
<line x1="1435.9" y1="513" x2="1435.9" y2="597" stroke="#aaa" stroke-width=".8"/>
<line x1="1569.5" y1="513" x2="1569.5" y2="597" stroke="#aaa" stroke-width=".8"/>
<g fill="#c8283e"><rect x="1435.9" y="516" width="6.1" height="9"/><rect x="1435.9" y="545" width="61.7" height="9.5"/><rect x="1435.9" y="573" width="12.1" height="9.5"/><rect x="1557.4" y="516" width="12.1" height="9"/><rect x="1569.5" y="545" width="17.2" height="9.5"/><rect x="1569.5" y="573" width="1" height="9.5"/></g>
<g fill="#5aa0f0"><rect x="1435.9" y="527" width="7.1" height="9"/><rect x="1435.9" y="555" width="51.6" height="9"/><rect x="1435.9" y="583" width="12.1" height="9.5"/><rect x="1569.5" y="527" width="31.4" height="9"/><rect x="1551.3" y="555" width="18.2" height="9"/><rect x="1557.4" y="583" width="12.1" height="9.5"/></g>
<g font-size="4.8" font-weight="bold">
<g fill="#c8283e"><text x="1445" y="523">1.9</text><text x="1500.7" y="552">17.7</text><text x="1452" y="580">3.6</text><text x="1555.3" y="523" text-anchor="end">-13.2</text><text x="1589.7" y="552">19.2</text><text x="1571.5" y="580">0.3</text></g>
<g fill="#5aa0f0"><text x="1446" y="534">2.2</text><text x="1490.5" y="562">14.9</text><text x="1452" y="590">3.6</text><text x="1603.9" y="534">34.5</text><text x="1549.2" y="562" text-anchor="end">-19.1</text><text x="1555.3" y="590" text-anchor="end">-12.8</text></g>
<rect x="1471.3" y="580" width="3.5" height="3.5" fill="#c8283e"/><text x="1477.4" y="584" fill="#222">Jan-Feb 2017</text>
<rect x="1471.3" y="590" width="3.5" height="3.5" fill="#5aa0f0"/><text x="1477.4" y="594" fill="#222">Jan-Feb 2016</text>
</g>
<text x="1210" y="617" class="src">Sumber : BPS (diolah Pusdatin), BPPP</text>

<rect x="1191" y="709" width="453" height="85" fill="#3b5abf"/>
<g font-weight="bold" fill="#fff">
<text x="1211" y="723" font-size="11.5" textLength="191" lengthAdjust="spacingAndGlyphs">Pusat Pengkajian Perdagangan Luar Negeri</text>
<text x="1211" y="733.5" font-size="9" textLength="189" lengthAdjust="spacingAndGlyphs">Badan Pengkajian &amp; Pengembangan  Perdagangan</text>
<text x="1211" y="744" font-size="9" textLength="109" lengthAdjust="spacingAndGlyphs">Kementerian Perdagangan RI</text>
<text x="1211" y="758" font-size="8.5" textLength="82" lengthAdjust="spacingAndGlyphs">Jl. M.I. Ridwan Rais No.5</text>
<text x="1211" y="766.5" font-size="8.5" textLength="46" lengthAdjust="spacingAndGlyphs">Jakarta 10110</text>
<text x="1211" y="775" font-size="8.5" textLength="70" lengthAdjust="spacingAndGlyphs">Gedung Utama Lt. 16</text>
<text x="1211" y="784" font-size="8.5" textLength="152" lengthAdjust="spacingAndGlyphs">Telp. +62 21 2352 8683 Fax. +62 21 2352 8693</text>
<text x="1496" y="778" font-size="8" textLength="116" lengthAdjust="spacingAndGlyphs">Email    : puska.daglu@kemendag.go.id</text>
<text x="1496" y="786.5" font-size="8" textLength="93" lengthAdjust="spacingAndGlyphs">Website : www.kemendag.go.id</text>
</g>
<line x1="1435" y1="742" x2="1435" y2="787" stroke="#fff" stroke-width=".7" opacity=".8"/>
<line x1="1440" y1="742" x2="1440" y2="787" stroke="#fff" stroke-width=".7" opacity=".8"/>
<text x="1648" y="727" font-size="25" fill="#6d6e70" textLength="125" lengthAdjust="spacingAndGlyphs">remarkable</text>
<text x="1648" y="748" font-size="27" fill="#e31e26" textLength="125" lengthAdjust="spacingAndGlyphs">indonesia</text>
<rect x="1759" y="758" width="14" height="15" fill="#5dd6b9"/><text x="1766" y="769" font-size="8" font-weight="bold" fill="#fff" text-anchor="middle">03</text>
<rect x="1759" y="773" width="14" height="21" fill="#142047"/>
</g>
</svg>

<!-- TABLE 1 -->
<div class="tb" style="left:614.9px;top:76px;width:626px;transform:scale(0.4975,0.5);">
<table class="t1">
<colgroup><col style="width:22px"><col style="width:238px"><col style="width:100px"><col style="width:84px"><col style="width:100px"><col style="width:82px"></colgroup>
<tr class="th" style="height:34px"><td>HS</td><td>URAIAN</td><td>NILAI (USD JUTA)</td><td>PERTUMBUHAN NILAI (YOY %)</td><td>VOLUME (RIBU TON)</td><td>PERTUMBUHAN VOLUME (YOY, %)</td></tr>
<tr style="height:4px"><td colspan="6"></td></tr>
<tr class="hb" style="height:18px"><td></td><td>TOTAL EKSPOR</td><td class="r">12,575.5</td><td class="r">11.18</td><td class="r">57,151.5</td><td class="r">(3.93)</td></tr>
<tr style="height:2px"><td colspan="6"></td></tr>
<tr class="hb" style="height:20px"><td></td><td>KOMODITI NON MIGAS</td><td class="r">11,378.4</td><td class="r">11.51</td><td class="r">53,823.4</td><td class="r">(3.38)</td></tr>
<tr class="dr" style="height:15px"><td>15</td><td>Lemak &amp; Minyak Hewan / Nabati</td><td class="r">1,994.03</td><td class="r">53.26</td><td class="r">2,419.43</td><td class="r">7.73</td></tr>
<tr class="dr" style="height:15px"><td>27</td><td>Bahan Bakar Mineral</td><td class="r">1,377.96</td><td class="r">31.49</td><td class="r">26,431.32</td><td class="r">(4.83)</td></tr>
<tr class="dr" style="height:15px"><td>40</td><td>Karet dan Barang dari Karet</td><td class="r">671.34</td><td class="r">59.55</td><td class="r">208.01</td><td class="r">16.47</td></tr>
<tr class="dr" style="height:15px"><td>85</td><td>Mesin dan Peralatan Listrik</td><td class="r">631.32</td><td class="r">(2.03)</td><td class="r">41.49</td><td class="r">(16.4)</td></tr>
<tr class="dr" style="height:15px"><td>87</td><td>Kendaraan Bermotor dan Bagiannya</td><td class="r">535.40</td><td class="r">17.61</td><td class="r">62.38</td><td class="r">30.25</td></tr>
<tr class="dr" style="height:15px"><td>71</td><td>Perhiasan / Permata</td><td class="r">490.36</td><td class="r">(49.80)</td><td class="r">0.09</td><td class="r">(66.76)</td></tr>
<tr class="dr" style="height:15px"><td>84</td><td>Mesin dan Pesawat Mekanik</td><td class="r">444.12</td><td class="r">18.80</td><td class="r">52.29</td><td class="r">19.68</td></tr>
<tr class="dr" style="height:15px"><td>64</td><td>Alas Kaki</td><td class="r">368.66</td><td class="r">4.18</td><td class="r">16.60</td><td class="r">(1.37)</td></tr>
<tr class="dr" style="height:15px"><td>38</td><td>Berbagai Produk Kimia</td><td class="r">351.79</td><td class="r">64.35</td><td class="r">320.91</td><td class="r">15.48</td></tr>
<tr class="dr" style="height:15px"><td>62</td><td>Pakaian Jadi Bukan Rajutan</td><td class="r">324.65</td><td class="r">(3.37)</td><td class="r">15.44</td><td class="r">(3.52)</td></tr>
<tr class="dr" style="height:15px"><td>44</td><td>Kayu, Barang dari Kayu</td><td class="r">308.82</td><td class="r">(1.14)</td><td class="r">437.76</td><td class="r">1.50</td></tr>
<tr class="dr" style="height:15px"><td>48</td><td>Kertas / Karton</td><td class="r">281.22</td><td class="r">2.92</td><td class="r">362.55</td><td class="r">10.73</td></tr>
<tr class="dr" style="height:15px"><td>61</td><td>Barang-barang Rajutan</td><td class="r">276.47</td><td class="r">11.77</td><td class="r">17.85</td><td class="r">(0.93)</td></tr>
<tr class="dr" style="height:15px"><td>29</td><td>Bahan Kimia Organik</td><td class="r">275.38</td><td class="r">81.04</td><td class="r">262.50</td><td class="r">34.51</td></tr>
<tr class="dr" style="height:15px"><td>03</td><td>Ikan dan Udang</td><td class="r">221.37</td><td class="r">(4.24)</td><td class="r">41.59</td><td class="r">(16.55)</td></tr>
<tr style="height:3px"><td colspan="6"></td></tr>
<tr class="hb" style="height:18px"><td></td><td>SUBTOTAL 15 KOMODITI UTAMA</td><td class="r">8,626.3</td><td class="r">13.40</td><td class="r">30,832.9</td><td class="r">(3.44)</td></tr>
<tr style="height:18px;font-weight:bold"><td></td><td><b>KOMODITI NON MIGAS LAINNYA</b></td><td class="r"><b>2,802.4</b></td><td class="r"><b>(4.36)</b></td><td class="r"><b>3,054.3</b></td><td class="r"><b>7.32</b></td></tr>
<tr style="height:2px"><td colspan="6"></td></tr>
<tr class="hb" style="height:18px"><td></td><td>KOMODITI MIGAS</td><td class="r">1,194.13</td><td class="r">3.63</td><td class="r">3,628.3</td><td class="r">(6.45)</td></tr>
<tr class="dr" style="height:15px"><td></td><td>Minyak Mentah</td><td class="r">427.6</td><td class="r">(14.48)</td><td class="r">1,263.3</td><td class="r">(21.01)</td></tr>
<tr class="dr" style="height:15px"><td></td><td>Hasil Minyak</td><td class="r">93.9</td><td class="r">69.62</td><td class="r">219.0</td><td class="r">5.70</td></tr>
<tr class="last" style="height:15px"><td></td><td>Gas</td><td class="r">686.6</td><td class="r">15.08</td><td class="r">2,204.9</td><td class="r">7.20</td></tr>
</table></div>

<!-- TABLE 2 -->
<div class="tb" style="left:1536.8px;top:43px;width:456px;transform:scale(0.4941,0.5);">
<table class="tx">
<colgroup><col style="width:24px"><col style="width:174px"><col style="width:72px"><col style="width:70px"><col style="width:78px"><col style="width:38px"></colgroup>
<tr class="th" style="height:18px"><td rowspan="2">HS</td><td rowspan="2">URAIAN BARANG</td><td colspan="2">USD JUTA</td><td colspan="2">PERUBAHAN</td></tr>
<tr class="th" style="height:18px"><td>JAN-FEB 2016</td><td>JAN-FEB 2017</td><td>USD JUTA</td><td>%</td></tr>
<tr style="height:19px"><td>15</td><td>Lemak &amp; Minyak Hewan / Nabati</td><td class="r">2,618.1</td><td class="r">4,188.7</td><td class="r">1,570.6</td><td class="r">60.0</td></tr>
<tr class="s" style="height:19px"><td>27</td><td>Bahan Bakar Mineral</td><td class="r">2,144.7</td><td class="r">3,056.6</td><td class="r">911.9</td><td class="r">42.5</td></tr>
<tr style="height:19px"><td>40</td><td>Karet dan Barang dari Karet</td><td class="r">814.7</td><td class="r">1,299.9</td><td class="r">485.2</td><td class="r">59.6</td></tr>
<tr class="s" style="height:19px"><td>87</td><td>Kendaraan Bermotor dan Bagiannya</td><td class="r">733.4</td><td class="r">1,042.5</td><td class="r">309.1</td><td class="r">42.1</td></tr>
<tr style="height:19px"><td>84</td><td>Mesin dan Peralatan Mekanik</td><td class="r">731.2</td><td class="r">901.3</td><td class="r">170.2</td><td class="r">23.3</td></tr>
<tr class="s" style="height:19px"><td>64</td><td>Alas Kaki</td><td class="r">749.1</td><td class="r">776.8</td><td class="r">27.7</td><td class="r">3.7</td></tr>
<tr style="height:19px"><td>38</td><td>Berbagai Produk Kimia</td><td class="r">411.8</td><td class="r">689.2</td><td class="r">277.4</td><td class="r">67.4</td></tr>
<tr class="s" style="height:19px"><td>62</td><td>Pakaian Jadi Bukan Rajutan</td><td class="r">644.5</td><td class="r">648.3</td><td class="r">3.7</td><td class="r">0.6</td></tr>
<tr style="height:19px"><td>44</td><td>Kayu, Barang dari Kayu</td><td class="r">607.8</td><td class="r">615.9</td><td class="r">8.1</td><td class="r">1.3</td></tr>
<tr class="s" style="height:19px"><td>61</td><td>Barang-barang Rajutan</td><td class="r">515.1</td><td class="r">587.7</td><td class="r">72.5</td><td class="r">14.1</td></tr>
<tr style="height:19px"><td>48</td><td>Kertas / Karton</td><td class="r">538.1</td><td class="r">570.7</td><td class="r">32.6</td><td class="r">6.1</td></tr>
<tr class="s" style="height:19px"><td>29</td><td>Bahan Kimia Organik</td><td class="r">298.9</td><td class="r">511.3</td><td class="r">218.4</td><td class="r">73.4</td></tr>
<tr style="height:19px"><td>39</td><td>Plastik dan Barang dari Plastik</td><td class="r">338.2</td><td class="r">378.8</td><td class="r">40.6</td><td class="r">12.0</td></tr>
<tr class="s" style="height:19px"><td>72</td><td>Besi dan Baja</td><td class="r">153.1</td><td class="r">342.5</td><td class="r">189.4</td><td class="r">123.8</td></tr>
<tr style="height:19px"><td>09</td><td>Kopi, Teh, Rempah-rempah</td><td class="r">255.7</td><td class="r">328.0</td><td class="r">72.3</td><td class="r">28.3</td></tr>
</table></div>

<!-- TABLE 3 -->
<div class="tb" style="left:1212.7px;top:159px;width:414px;transform:scale(0.4941,0.5);">
<table class="tx">
<colgroup><col style="width:140px"><col style="width:88px"><col style="width:74px"><col style="width:60px"><col style="width:52px"></colgroup>
<tr class="th" style="height:18px"><td rowspan="2">NEGARA TUJUAN EKSPOR</td><td colspan="2">USD JUTA</td><td colspan="2">PERUBAHAN</td></tr>
<tr class="th" style="height:18px"><td>JAN-FEB 2016</td><td>JAN-FEB 2017</td><td>USD JUTA</td><td>%</td></tr>
<tr style="height:16px"><td>RRT</td><td class="r">1,830.4</td><td class="r">2,907.4</td><td class="r">1,077.0</td><td class="r">58.8</td></tr>
<tr class="s" style="height:16px"><td>AMERIKA SERIKAT</td><td class="r">2,336.5</td><td class="r">2,781.8</td><td class="r">445.4</td><td class="r">17.1</td></tr>
<tr style="height:16px"><td>INDIA</td><td class="r">1,326.8</td><td class="r">2,338.5</td><td class="r">1,012.7</td><td class="r">76.4</td></tr>
<tr class="s" style="height:16px"><td>MALAYSIA</td><td class="r">807.6</td><td class="r">1,141.0</td><td class="r">268.5</td><td class="r">30.8</td></tr>
<tr style="height:16px"><td>KOREA SELATAN</td><td class="r">780.6</td><td class="r">941.5</td><td class="r">150.9</td><td class="r">19.1</td></tr>
<tr class="s" style="height:16px"><td>PILIPINA</td><td class="r">582.6</td><td class="r">916.2</td><td class="r">333.6</td><td class="r">57.3</td></tr>
<tr style="height:16px"><td>THAILAND</td><td class="r">686.8</td><td class="r">818.5</td><td class="r">121.7</td><td class="r">17.5</td></tr>
<tr class="s" style="height:16px"><td>BELANDA</td><td class="r">456.7</td><td class="r">660.2</td><td class="r">204.5</td><td class="r">45.1</td></tr>
<tr style="height:16px"><td>VIETNAM</td><td class="r">388.8</td><td class="r">486.5</td><td class="r">101.8</td><td class="r">25.8</td></tr>
<tr class="s" style="height:16px"><td>JERMAN</td><td class="r">417.5</td><td class="r">420.8</td><td class="r">3.3</td><td class="r">0.8</td></tr>
<tr style="height:16px"><td>PAKISTAN</td><td class="r">328.5</td><td class="r">408.1</td><td class="r">79.6</td><td class="r">24.2</td></tr>
<tr class="s" style="height:16px"><td>HONGKONG</td><td class="r">335.7</td><td class="r">381.3</td><td class="r">45.7</td><td class="r">13.6</td></tr>
<tr style="height:16px"><td>SPANYOL</td><td class="r">268.5</td><td class="r">366.3</td><td class="r">102.8</td><td class="r">39.0</td></tr>
<tr class="s" style="height:16px"><td>ITALIA</td><td class="r">267.5</td><td class="r">301.8</td><td class="r">34.2</td><td class="r">12.8</td></tr>
<tr style="height:16px"><td>RUSIA</td><td class="r">133.9</td><td class="r">260.5</td><td class="r">126.6</td><td class="r">94.6</td></tr>
</table></div>
</div>
<script>
(function(){
function smooth(p){var d='M'+p[0][0]+','+p[0][1];for(var i=0;i<p.length-1;i++){var p0=p[i-1]||p[i],p1=p[i],p2=p[i+1],p3=p[i+2]||p2;var c1x=p1[0]+(p2[0]-p0[0])/6,c1y=p1[1]+(p2[1]-p0[1])/6,c2x=p2[0]-(p3[0]-p1[0])/6,c2y=p2[1]-(p3[1]-p1[1])/6;d+=' C'+c1x.toFixed(1)+','+c1y.toFixed(1)+' '+c2x.toFixed(1)+','+c2y.toFixed(1)+' '+p2[0]+','+p2[1];}return d;}
function z(xs,ys){return xs.map(function(x,i){return [x,ys[i]];});}
var x1=[288.4,309.9,331.4,352.9,374.4,395.9,417.5,439,460.5,482,503.5,525,546.5,568];
var x2=[54,77,99,122,145,168,192,215,237,260,283,307,329,353];
var e;
e=document.getElementById('g1line');if(e)e.setAttribute('d',smooth(z(x1,[359,333,348,344,350,339,347,352,330,331,340,336,326,329])));
e=document.getElementById('g2o');if(e)e.setAttribute('d',smooth(z(x2,[706,681,692,691,686,675,699,668,670,659,631,640,619,653])));
e=document.getElementById('g2r');if(e)e.setAttribute('d',smooth(z(x2,[690,654,661,674,668,645,716,606,672,666,658,664,674,679])));
})();
</script>
</body></html>
